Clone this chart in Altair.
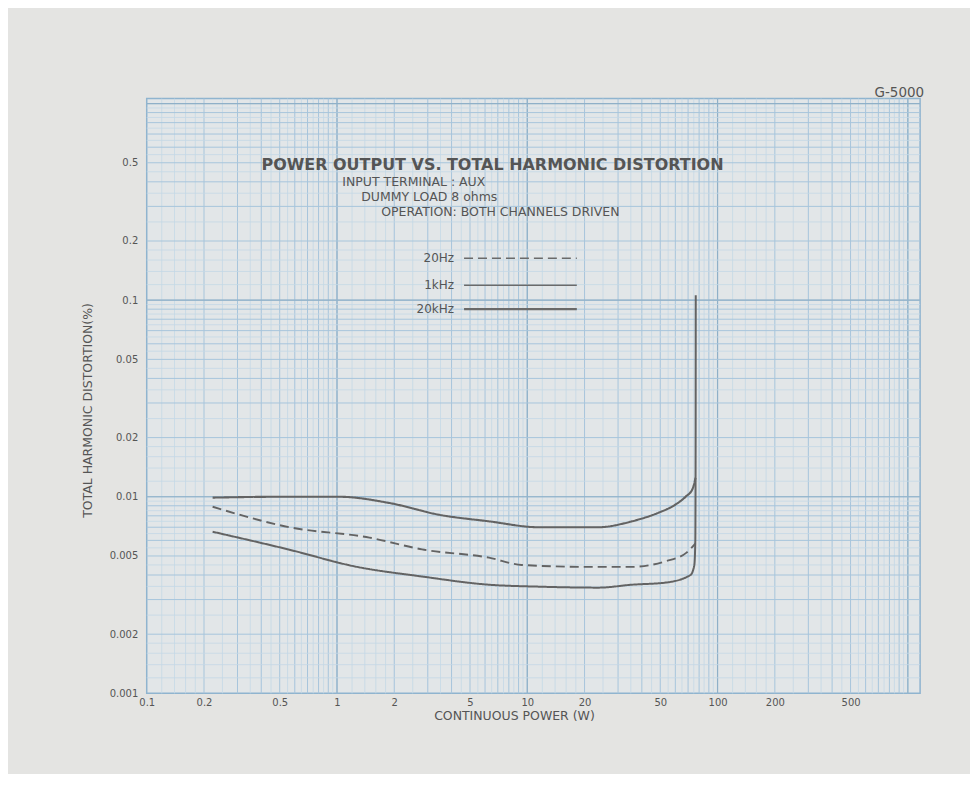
import altair as alt
import pandas as pd

# ---- data ----
series_names = ["20Hz", "1kHz", "20kHz"]

power_20khz = [0.222, 0.5, 1.03, 1.88, 3.44, 6.29, 11.5, 23.7, 35.4, 49.0, 58.7, 67.9, 74.0, 76.6]
thd_20khz = [0.0099, 0.0100, 0.0100, 0.0093, 0.0081, 0.0075, 0.0070, 0.0070, 0.0075, 0.0083, 0.0090, 0.0100, 0.0110, 0.0125]

power_20hz = [0.222, 0.562, 1.48, 2.80, 6.29, 9.37, 21.0, 35.4, 53.3, 68.7, 76.6]
thd_20hz = [0.0089, 0.0070, 0.0062, 0.0054, 0.0049, 0.0045, 0.0044, 0.0044, 0.0047, 0.0052, 0.0058]

power_1khz = [0.222, 0.562, 1.26, 2.80, 6.29, 11.5, 23.7, 35.4, 53.3, 72.1, 75.5, 76.4, 76.7, 76.8]
thd_1khz = [0.00664, 0.00538, 0.00441, 0.00393, 0.00357, 0.00349, 0.00345, 0.00357, 0.00366, 0.0040, 0.0045, 0.0060, 0.0200, 0.106]

x_labels = [0.1, 0.2, 0.5, 1, 2, 5, 10, 20, 50, 100, 200, 500]
y_labels = [0.001, 0.002, 0.005, 0.01, 0.02, 0.05, 0.1, 0.2, 0.5]

major_mant = [1, 2, 3, 4, 5, 6, 7, 8, 9]
minor_mant = [1.2, 1.4, 1.6, 1.8, 2.5, 3.5, 4.5, 5.5, 6.5, 7.5, 8.5, 9.5]
x_decades = [0.1, 1, 10, 100, 1000]
y_decades = [0.001, 0.01, 0.1, 1]

title_lines = ["POWER OUTPUT VS. TOTAL HARMONIC DISTORTION",
               "INPUT TERMINAL : AUX",
               "DUMMY LOAD 8 ohms",
               "OPERATION: BOTH CHANNELS DRIVEN"]
model_name = "G-5000"

X_DOMAIN = [0.1, 1160]
Y_DOMAIN = [0.001, 1.06]

# ---- build tables ----
rows = []
for name, px, py in [("20kHz", power_20khz, thd_20khz),
                     ("20Hz", power_20hz, thd_20hz),
                     ("1kHz", power_1khz, thd_1khz)]:
    for i, (a, b) in enumerate(zip(px, py)):
        rows.append({"series": name, "power": a, "thd": b, "order": i})
df = pd.DataFrame(rows)


def grid_vals(mants, decades, dom):
    out = sorted({round(m * d, 6) for d in decades for m in mants})
    return [v for v in out if dom[0] < v < dom[1]]


xg_major = pd.DataFrame({"power": grid_vals(major_mant, x_decades, X_DOMAIN)})
xg_minor = pd.DataFrame({"power": grid_vals(minor_mant, x_decades, X_DOMAIN)})
xg_dec = pd.DataFrame({"power": [v for v in x_decades if X_DOMAIN[0] < v < X_DOMAIN[1]]})
yg_major = pd.DataFrame({"thd": grid_vals(major_mant, y_decades, Y_DOMAIN)})
yg_minor = pd.DataFrame({"thd": grid_vals(minor_mant, y_decades, Y_DOMAIN)})
yg_dec = pd.DataFrame({"thd": [v for v in y_decades if Y_DOMAIN[0] < v < Y_DOMAIN[1]]})

xscale = alt.Scale(type="log", domain=X_DOMAIN, nice=False)
yscale = alt.Scale(type="log", domain=Y_DOMAIN, nice=False)

TXT = "#555555"
FONT = "DejaVu Sans"

xaxis = alt.Axis(values=x_labels, format="~g", title="CONTINUOUS POWER (W)",
                 titleX=368, titleY=22, titleBaseline="middle",
                 labelPadding=4, labelFlush=False, labelOverlap=False)
yaxis = alt.Axis(values=y_labels, format="~g", title="TOTAL HARMONIC DISTORTION(%)",
                 titleX=-59, titleY=312, titleAngle=-90, titleAlign="center",
                 titleBaseline="middle", labelPadding=9, labelFlush=False,
                 labelOverlap=False)


def xgrid(d, color, w):
    return alt.Chart(d).mark_rule(color=color, strokeWidth=w).encode(
        x=alt.X("power:Q", scale=xscale, axis=xaxis))


def ygrid(d, color, w):
    return alt.Chart(d).mark_rule(color=color, strokeWidth=w).encode(
        y=alt.Y("thd:Q", scale=yscale, axis=yaxis))


xg1 = xgrid(xg_minor, "#c4d8e6", 0.8)
xg2 = xgrid(xg_major, "#a7c5dc", 1)
xg3 = xgrid(xg_dec, "#8fb0c8", 1.2)
yg1 = ygrid(yg_minor, "#c4d8e6", 0.8)
yg2 = ygrid(yg_major, "#a7c5dc", 1)
yg3 = ygrid(yg_dec, "#8fb0c8", 1.2)

lines = alt.Chart(df).mark_line(color="#636363", interpolate="monotone").encode(
    x=alt.X("power:Q", scale=xscale, axis=xaxis),
    y=alt.Y("thd:Q", scale=yscale, axis=yaxis),
    detail="series:N",
    order="order:Q",
    strokeDash=alt.StrokeDash("series:N", scale=alt.Scale(domain=series_names,
                              range=[[9, 5], [1, 0], [1, 0]]), legend=None),
    strokeWidth=alt.StrokeWidth("series:N", scale=alt.Scale(domain=series_names,
                                range=[1.9, 2.1, 2.1]), legend=None),
)

one = pd.DataFrame({"a": [0]})


def txt(s, x, y, size, align="left", weight="normal"):
    return alt.Chart(one).mark_text(text=s, align=align, baseline="middle", fontSize=size,
                                    font=FONT, fontWeight=weight, color=TXT).encode(
        x=alt.value(x), y=alt.value(y))


texts = [
    txt(title_lines[0], 115, 67, 16, weight="bold"),
    txt(title_lines[1], 196, 84, 12.5),
    txt(title_lines[2], 215, 99, 12.5),
    txt(title_lines[3], 235, 114, 12.5),
    txt(model_name, 779, -6, 13.5, align="right"),
]

legend_y = [160, 187, 211]
legend_dash = [[9, 5], [1, 0], [1, 0]]
legend_w = [1.6, 1.6, 2.2]
legend_layers = []
for name, yy, dash, w in zip(series_names, legend_y, legend_dash, legend_w):
    legend_layers.append(txt(name, 308, yy, 12, align="right"))
    legend_layers.append(alt.Chart(one).mark_rule(color="#6a6a6a", strokeDash=dash, strokeWidth=w).encode(
        x=alt.value(318), x2=alt.value(431), y=alt.value(yy)))

chart = alt.layer(xg1, xg2, xg3, yg1, yg2, yg3, lines, *texts, *legend_layers).properties(
    width=775, height=596,
    autosize=alt.AutoSizeParams(type="none"),
    padding={"left": 139, "top": 90, "right": 50, "bottom": 80},
    background="#e4e4e2",
).configure_view(
    stroke="#8fb4cf", strokeWidth=1.5, fill="#e2e6e8"
).configure_axis(
    domain=False, ticks=False, grid=False,
    labelFont=FONT, labelFontSize=10, labelColor=TXT,
    titleFont=FONT, titleFontSize=12.5, titleColor=TXT, titleFontWeight="normal",
)

chart.save("out.html", embed_options={"renderer": "svg", "actions": False})
